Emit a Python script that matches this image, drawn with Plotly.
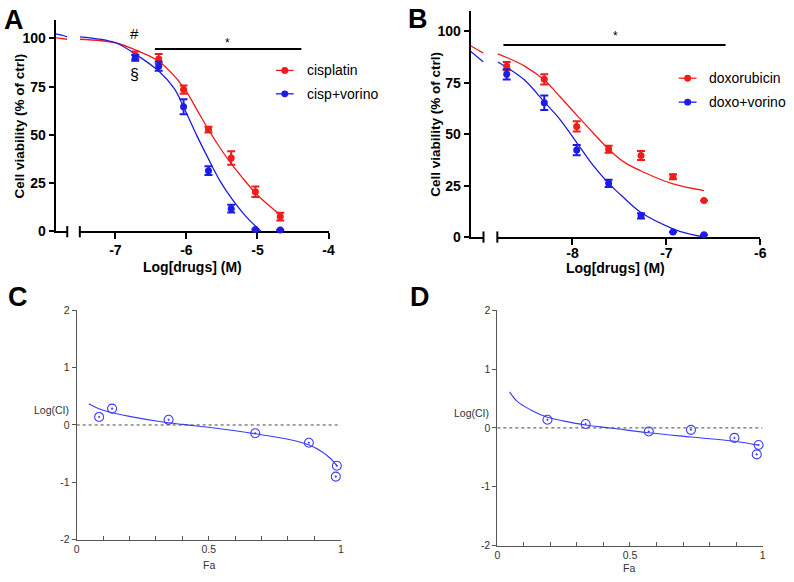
import plotly.graph_objects as go

W, H = 794, 582
def fx(p): return p / W
def fy(p): return 1 - p / H

RED = "rgb(240,28,28)"
BLUE = "rgb(28,28,230)"
CBLUE = "rgb(60,60,255)"
BOLD = dict(family="Liberation Sans, Arial", size=14, color="black", weight="bold")
REG = dict(family="Liberation Sans, Arial", size=14, color="black")
SMALL = dict(family="Liberation Sans, Arial", size=10.5, color="#333")

# ---------------- Panel A data ----------------
a_logc = [-6.72, -6.39, -6.04, -5.69, -5.37, -5.03, -4.68]
a_cis = [91.2, 89.4, 73.5, 52.8, 38.1, 20.6, 7.7]
a_cis_err = [2.0, 2.5, 2.2, 1.5, 3.5, 2.7, 2.0]
a_combo = [89.9, 85.6, 64.6, 31.5, 11.8, 1.0, 0.7]
a_combo_err = [1.5, 2.3, 3.9, 2.3, 2.0, 0, 0]
a_fit_cis_x = [-7.5, -7.0, -6.72, -6.39, -6.04, -5.85, -5.69, -5.53, -5.37, -5.2, -5.03, -4.85, -4.68]
a_fit_cis_y = [99.6, 97.8, 94.1, 88.2, 74.7, 62.9, 52.8, 43.5, 35.1, 27.3, 19.9, 13.8, 8.6]
a_fit_combo_x = [-7.5, -7.0, -6.72, -6.39, -6.17, -6.04, -5.85, -5.69, -5.53, -5.37, -5.17, -4.95]
a_fit_combo_y = [100.8, 97.8, 91.9, 83.1, 74.0, 64.5, 49.4, 37.6, 26.3, 17.4, 8.1, 0.0]
a_brk_x = [-9.2, -9.1, -9.0]
a_brk_cis = [100.3, 100.0, 99.5]
a_brk_combo = [102.4, 101.7, 100.9]
a_ticks = [-7, -6, -5, -4]
a_ticktext = ["-7", "-6", "-5", "-4"]
a_names = ["cisplatin", "cisp+vorino"]

# ---------------- Panel B data ----------------
b_logc = [-8.70, -8.30, -7.955, -7.615, -7.27, -6.93, -6.60]
b_dox = [83.1, 76.7, 53.8, 42.7, 39.6, 29.3, 17.7]
b_dox_err = [2.0, 2.5, 2.5, 1.7, 2.2, 1.2, 0]
b_combo = [79.1, 65.3, 42.3, 26.1, 10.3, 2.4, 1.1]
b_combo_err = [2.5, 3.5, 2.5, 1.8, 1.3, 0, 0]
b_fit_dox_x = [-8.795, -8.70, -8.51, -8.30, -8.13, -7.955, -7.78, -7.615, -7.45, -7.27, -6.93, -6.60]
b_fit_dox_y = [89.1, 87.3, 83.1, 76.3, 68.1, 59.3, 50.6, 42.7, 36.4, 32.1, 25.8, 22.6]
b_fit_combo_x = [-8.795, -8.70, -8.51, -8.30, -8.13, -7.955, -7.78, -7.615, -7.45, -7.27, -6.93, -6.77, -6.60]
b_fit_combo_y = [85.1, 82.5, 76.3, 65.7, 57.0, 45.9, 34.8, 26.1, 19.0, 11.9, 4.0, 1.6, 0.0]
b_brk_x = [-9.0, -8.925, -8.85]
b_brk_dox = [93.0, 91.2, 89.4]
b_brk_combo = [90.2, 87.7, 85.1]
b_ticks = [-8, -7, -6]
b_ticktext = ["-8", "-7", "-6"]
b_names = ["doxorubicin", "doxo+vorino"]

y_ticks = [0, 25, 50, 75, 100]

# ---------------- Panel C / D data ----------------
c_fa = [0.085, 0.134, 0.348, 0.676, 0.879, 0.985, 0.981]
c_logci = [0.14, 0.285, 0.09, -0.145, -0.31, -0.71, -0.90]
c_fit_fa = [0.046, 0.08, 0.12, 0.2, 0.32, 0.4, 0.5, 0.6, 0.7, 0.8, 0.88, 0.93, 0.96, 0.985]
c_fit_logci = [0.37, 0.29, 0.23, 0.15, 0.056, 0.01, -0.04, -0.10, -0.17, -0.25, -0.35, -0.47, -0.58, -0.71]
d_fa = [0.189, 0.333, 0.571, 0.730, 0.894, 0.985, 0.978]
d_logci = [0.138, 0.066, -0.06, -0.033, -0.17, -0.29, -0.45]
d_fit_fa = [0.046, 0.075, 0.124, 0.189, 0.248, 0.333, 0.435, 0.571, 0.730, 0.894, 0.985]
d_fit_logci = [0.613, 0.45, 0.31, 0.18, 0.12, 0.05, -0.006, -0.083, -0.155, -0.227, -0.293]
fa_ticks = [round(i * 0.1, 1) for i in range(11)]
fa_ticktext = ["0", "", "", "", "", "0.5", "", "", "", "", "1"]
ci_ticks = [-2, -1, 0, 1, 2]

fig = go.Figure()

def pts(x, y, err, color, xa, ya):
    fig.add_trace(go.Scatter(x=x, y=y, mode="markers", xaxis=xa, yaxis=ya, showlegend=False,
                             cliponaxis=False,
                             marker=dict(color=color, size=7),
                             error_y=dict(type="data", array=err, color=color, thickness=2, width=4)))

def curve(x, y, color, xa, ya, width=1.3):
    fig.add_trace(go.Scatter(x=x, y=y, mode="lines", xaxis=xa, yaxis=ya, showlegend=False,
                             line=dict(color=color, width=width, shape="spline")))

# Panel A
curve(a_brk_x, a_brk_cis, RED, "x", "y")
curve(a_brk_x, a_brk_combo, BLUE, "x", "y")
curve(a_fit_cis_x, a_fit_cis_y, RED, "x2", "y")
curve(a_fit_combo_x, a_fit_combo_y, BLUE, "x2", "y")
pts(a_logc, a_cis, a_cis_err, RED, "x2", "y")
pts(a_logc, a_combo, a_combo_err, BLUE, "x2", "y")

# Panel B
curve(b_brk_x, b_brk_dox, RED, "x3", "y2")
curve(b_brk_x, b_brk_combo, BLUE, "x3", "y2")
curve(b_fit_dox_x, b_fit_dox_y, RED, "x4", "y2")
curve(b_fit_combo_x, b_fit_combo_y, BLUE, "x4", "y2")
pts(b_logc, b_dox, b_dox_err, RED, "x4", "y2")
pts(b_logc, b_combo, b_combo_err, BLUE, "x4", "y2")

# Panel C / D
for fa, ci, ffa, fci, xa, ya in [(c_fa, c_logci, c_fit_fa, c_fit_logci, "x5", "y3"),
                                 (d_fa, d_logci, d_fit_fa, d_fit_logci, "x6", "y4")]:
    curve(ffa, fci, CBLUE, xa, ya, width=1.1)
    fig.add_trace(go.Scatter(x=fa, y=ci, mode="markers", xaxis=xa, yaxis=ya, showlegend=False,
                             cliponaxis=False,
                             marker=dict(symbol="circle-open-dot", size=9, color=CBLUE,
                                         line=dict(width=1.1, color=CBLUE))))

ax_common = dict(showgrid=False, zeroline=False, showline=True, linecolor="black", linewidth=2,
                 tickcolor="black", tickwidth=2, layer="below traces")
lay = dict(width=W, height=H, margin=dict(l=0, r=0, t=0, b=0), showlegend=False,
           paper_bgcolor="white", plot_bgcolor="white")

# A axes
lay["xaxis"] = dict(ax_common, domain=[fx(53.3), fx(65)], range=[-9.2, -9.0], anchor="y",
                    showticklabels=False, ticks="")
lay["xaxis2"] = dict(ax_common, domain=[fx(77.7), fx(329.3)], range=[-7.5, -4], anchor="y",
                     tickvals=a_ticks, ticktext=a_ticktext, ticks="outside", ticklen=6, tickfont=BOLD,
                     ticklabelstandoff=-1)
lay["yaxis"] = dict(ax_common, domain=[fy(231), fy(14)], range=[0, 109.76], anchor="x",
                    tickvals=y_ticks, ticks="outside", ticklen=5, tickfont=BOLD)
# B axes
lay["xaxis3"] = dict(ax_common, domain=[fx(473), fx(486)], range=[-9.0, -8.85], anchor="y2",
                     showticklabels=False, ticks="")
lay["xaxis4"] = dict(ax_common, domain=[fx(500), fx(766)], range=[-8.8, -6], anchor="y2",
                     tickvals=b_ticks, ticktext=b_ticktext, ticks="outside", ticklen=6, tickfont=BOLD,
                     ticklabelstandoff=-4)
lay["yaxis2"] = dict(ax_common, domain=[fy(236.7), fy(5)], range=[0, 109.97], anchor="x3",
                     tickvals=y_ticks, ticks="outside", ticklen=5, tickfont=BOLD)
# C / D axes
cd_common = dict(showgrid=False, zeroline=False, showline=True, linecolor="#555", linewidth=1,
                 tickcolor="#555", tickwidth=1, tickfont=SMALL, layer="below traces")
lay["xaxis5"] = dict(cd_common, domain=[fx(74.5), fx(341.7)], range=[0, 1], anchor="y3",
                     tickvals=fa_ticks, ticktext=fa_ticktext, ticks="inside", ticklen=4)
lay["yaxis3"] = dict(cd_common, domain=[fy(546.9), fy(311.7)], range=[-2, 2], anchor="x5",
                     tickvals=ci_ticks, ticktext=[str(v) for v in ci_ticks], ticks="outside", ticklen=4)
lay["xaxis6"] = dict(cd_common, domain=[fx(500), fx(768.3)], range=[0, 1], anchor="y4",
                     tickvals=fa_ticks, ticktext=fa_ticktext, ticks="inside", ticklen=4)
lay["yaxis4"] = dict(cd_common, domain=[fy(552.9), fy(311.7)], range=[-2, 2], anchor="x6",
                     tickvals=ci_ticks, ticktext=[str(v) for v in ci_ticks], ticks="outside", ticklen=4)
fig.update_layout(**lay)

shapes = []
# axis break caps
for xp in [65, 77.7]:
    shapes.append(dict(type="line", xref="paper", yref="paper", x0=fx(xp), x1=fx(xp),
                       y0=fy(225.5), y1=fy(237), line=dict(color="black", width=2)))
for xp in [486, 500]:
    shapes.append(dict(type="line", xref="paper", yref="paper", x0=fx(xp), x1=fx(xp),
                       y0=fy(231), y1=fy(242.5), line=dict(color="black", width=2)))
# significance bars
shapes.append(dict(type="line", xref="x2", yref="y", x0=-6.444, x1=-4.383, y0=94.6, y1=94.6,
                   line=dict(color="black", width=2)))
shapes.append(dict(type="line", xref="x4", yref="y2", x0=-8.735, x1=-6.37, y0=93.4, y1=93.4,
                   line=dict(color="black", width=2)))
# zero reference dotted lines
shapes.append(dict(type="line", xref="x5", yref="y3", x0=0, x1=1, y0=0, y1=0,
                   line=dict(color="#444", width=1, dash="dot")))
shapes.append(dict(type="line", xref="x6", yref="y4", x0=0, x1=1, y0=0, y1=0,
                   line=dict(color="#444", width=1, dash="dot")))

def ann(text, x, y, font, angle=0, xa="center"):
    fig.add_annotation(text=text, x=fx(x), y=fy(y), xref="paper", yref="paper", showarrow=False,
                       font=font, textangle=angle, xanchor=xa, yanchor="middle")

# legends (key line + dot + label)
def legend_entry(name, color, xl, yc):
    shapes.append(dict(type="line", xref="paper", yref="paper", x0=fx(xl), x1=fx(xl + 18),
                       y0=fy(yc), y1=fy(yc), line=dict(color=color, width=1.3)))
    shapes.append(dict(type="circle", xref="paper", yref="paper", x0=fx(xl + 5.5), x1=fx(xl + 12.5),
                       y0=fy(yc + 3.5), y1=fy(yc - 3.5), fillcolor=color, line=dict(width=0)))
    ann(name, xl + 29, yc, REG, xa="left")

for name, col, yc in zip(a_names, [RED, BLUE], [66, 90]):
    legend_entry(name, col, 276, yc)
for name, col, yc in zip(b_names, [RED, BLUE], [74, 98.5]):
    legend_entry(name, col, 683.5, yc)

fig.update_layout(shapes=shapes)

LET = dict(family="Liberation Sans, Arial", size=27, color="black", weight="bold")
ann("A", 11, 14, LET)
ann("B", 420, 13, LET)
ann("C", 15, 298, LET)
ann("D", 421.7, 298, LET)
YT = dict(BOLD, size=13.5)
ann("Cell viability (% of ctrl)", 16.7, 123, YT, angle=-90)
ann("Cell viability (% of ctrl)", 436.7, 121, YT, angle=-90)
ann("Log[drugs] (M)", 192, 267, BOLD)
ann("Log[drugs] (M)", 620, 268.5, BOLD)
ann("*", 226.7, 38, dict(REG, size=12))
ann("*", 620, 31, dict(REG, size=12))
ann("#", 133.5, 28, dict(REG, size=15))
ann("§", 133.5, 70.5, dict(REG, size=16))
ann("Log(CI)", 49.5, 414.3, SMALL)
ann("Log(CI)", 473.7, 417.3, SMALL)
ann("Fa", 208, 573, SMALL)
ann("Fa", 633, 576, SMALL)

fig.write_html("out.html", config={"displayModeBar": False},
               post_script="document.body.style.margin='0px';document.body.style.overflow='hidden';")
